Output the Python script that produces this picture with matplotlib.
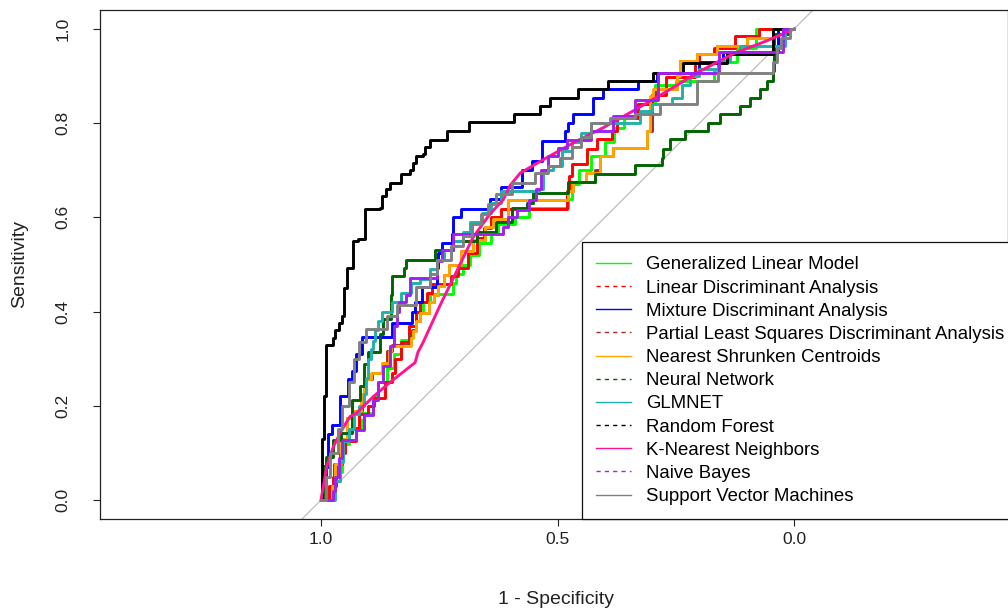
import matplotlib
matplotlib.use("Agg")
import matplotlib.pyplot as plt
from matplotlib.lines import Line2D

plt.rcParams["font.family"] = ["Liberation Sans", "DejaVu Sans"]

# ROC curves as (specificity, sensitivity) step points, from spec=1 down to spec=0
glm = [(1.0, 0.0), (0.975, 0.03), (0.968, 0.04), (0.96, 0.06), (0.955, 0.12), (0.94, 0.15),
       (0.915, 0.17), (0.91, 0.185), (0.89, 0.22), (0.88, 0.25), (0.86, 0.28), (0.845, 0.31),
       (0.83, 0.34), (0.815, 0.37), (0.80, 0.40), (0.785, 0.42), (0.77, 0.437), (0.72, 0.46),
       (0.715, 0.48), (0.70, 0.50), (0.685, 0.52), (0.665, 0.545), (0.64, 0.57), (0.625, 0.585),
       (0.59, 0.60), (0.56, 0.62), (0.477, 0.64), (0.47, 0.67), (0.455, 0.70), (0.43, 0.73),
       (0.40, 0.76), (0.38, 0.79), (0.36, 0.81), (0.33, 0.84), (0.295, 0.88), (0.25, 0.89),
       (0.17, 0.91), (0.16, 0.93), (0.12, 0.96), (0.08, 1.0), (0.0, 1.0)]
lda = [(1.0, 0.0), (0.983, 0.03), (0.975, 0.05), (0.972, 0.076), (0.96, 0.10), (0.95, 0.125),
       (0.927, 0.153), (0.92, 0.182), (0.90, 0.20), (0.888, 0.217), (0.865, 0.25), (0.85, 0.27),
       (0.843, 0.30), (0.83, 0.335), (0.815, 0.37), (0.80, 0.40), (0.79, 0.42), (0.775, 0.44),
       (0.765, 0.458), (0.725, 0.475), (0.71, 0.493), (0.69, 0.525), (0.67, 0.557), (0.655, 0.578),
       (0.64, 0.60), (0.62, 0.618), (0.48, 0.656), (0.476, 0.688), (0.47, 0.713), (0.438, 0.745),
       (0.417, 0.766), (0.385, 0.783), (0.375, 0.81), (0.33, 0.84), (0.30, 0.86), (0.27, 0.897),
       (0.21, 0.93), (0.20, 0.947), (0.17, 0.96), (0.125, 0.985), (0.075, 1.0), (0.0, 1.0)]
mda = [(1.0, 0.0), (0.99, 0.07), (0.985, 0.14), (0.977, 0.16), (0.96, 0.22), (0.943, 0.256),
       (0.935, 0.274), (0.925, 0.31), (0.914, 0.346), (0.85, 0.376), (0.808, 0.40), (0.801, 0.42),
       (0.787, 0.453), (0.755, 0.493), (0.753, 0.525), (0.745, 0.546), (0.724, 0.565), (0.721, 0.60),
       (0.703, 0.618), (0.643, 0.64), (0.62, 0.665), (0.576, 0.70), (0.555, 0.72), (0.533, 0.762),
       (0.484, 0.783), (0.478, 0.80), (0.467, 0.82), (0.425, 0.854), (0.404, 0.872), (0.33, 0.89),
       (0.29, 0.906), (0.20, 0.93), (0.15, 0.95), (0.034, 1.0), (0.0, 1.0)]
pls = [(1.0, 0.0), (0.974, 0.03), (0.968, 0.076), (0.955, 0.13), (0.944, 0.175), (0.933, 0.19),
       (0.913, 0.225), (0.908, 0.256), (0.893, 0.27), (0.868, 0.29), (0.86, 0.316), (0.85, 0.33),
       (0.815, 0.35), (0.808, 0.36), (0.80, 0.38), (0.79, 0.398), (0.772, 0.42), (0.762, 0.435),
       (0.752, 0.455), (0.741, 0.478), (0.73, 0.50), (0.703, 0.528), (0.678, 0.553), (0.653, 0.58),
       (0.636, 0.597), (0.605, 0.636), (0.478, 0.656), (0.467, 0.674), (0.42, 0.70), (0.41, 0.73),
       (0.383, 0.748), (0.311, 0.783), (0.30, 0.86), (0.295, 0.872), (0.248, 0.90), (0.241, 0.932),
       (0.206, 0.947), (0.163, 0.964), (0.10, 0.98), (0.044, 1.0), (0.0, 1.0)]
nsc = [(1.0, 0.0), (0.976, 0.03), (0.97, 0.076), (0.957, 0.13), (0.946, 0.175), (0.935, 0.19),
       (0.915, 0.225), (0.91, 0.256), (0.895, 0.27), (0.87, 0.29), (0.857, 0.316), (0.853, 0.328),
       (0.81, 0.345), (0.805, 0.359), (0.80, 0.38), (0.79, 0.398), (0.772, 0.42), (0.762, 0.435),
       (0.752, 0.455), (0.741, 0.478), (0.73, 0.50), (0.703, 0.528), (0.678, 0.553), (0.653, 0.58),
       (0.636, 0.597), (0.605, 0.636), (0.478, 0.656), (0.467, 0.674), (0.44, 0.695), (0.41, 0.73),
       (0.383, 0.748), (0.311, 0.783), (0.304, 0.858), (0.298, 0.872), (0.248, 0.90), (0.241, 0.932),
       (0.206, 0.947), (0.163, 0.964), (0.10, 0.98), (0.044, 1.0), (0.0, 1.0)]
nnet = [(1.0, 0.0), (0.996, 0.073), (0.99, 0.091), (0.975, 0.127), (0.957, 0.142), (0.935, 0.213),
        (0.918, 0.242), (0.908, 0.289), (0.90, 0.314), (0.875, 0.353), (0.868, 0.385), (0.852, 0.435),
        (0.849, 0.475), (0.824, 0.493), (0.82, 0.51), (0.78, 0.51), (0.76, 0.53), (0.72, 0.55),
        (0.67, 0.57), (0.63, 0.59), (0.597, 0.62), (0.565, 0.63), (0.552, 0.652), (0.477, 0.674),
        (0.42, 0.692), (0.336, 0.711), (0.28, 0.727), (0.277, 0.745), (0.262, 0.766), (0.23, 0.783),
        (0.182, 0.80), (0.156, 0.82), (0.114, 0.837), (0.093, 0.854), (0.072, 0.872), (0.057, 0.89),
        (0.045, 0.91), (0.042, 0.99), (0.01, 1.0), (0.0, 1.0)]
glmnet = [(1.0, 0.0), (0.97, 0.04), (0.96, 0.08), (0.953, 0.125), (0.94, 0.15), (0.93, 0.182),
          (0.92, 0.20), (0.91, 0.225), (0.905, 0.26), (0.90, 0.30), (0.895, 0.32), (0.89, 0.338),
          (0.885, 0.36), (0.88, 0.38), (0.87, 0.40), (0.85, 0.42), (0.83, 0.44), (0.81, 0.46),
          (0.79, 0.47), (0.77, 0.49), (0.755, 0.51), (0.74, 0.53), (0.72, 0.55), (0.70, 0.57),
          (0.685, 0.59), (0.66, 0.61), (0.64, 0.63), (0.62, 0.655), (0.54, 0.66), (0.53, 0.70),
          (0.51, 0.71), (0.49, 0.74), (0.47, 0.76), (0.45, 0.78), (0.43, 0.80), (0.326, 0.826),
          (0.30, 0.84), (0.258, 0.854), (0.237, 0.88), (0.22, 0.90), (0.20, 0.915), (0.16, 0.932),
          (0.135, 0.95), (0.115, 0.964), (0.019, 1.0), (0.0, 1.0)]
rf = [(1.0, 0.0), (0.997, 0.13), (0.993, 0.22), (0.989, 0.33), (0.975, 0.345), (0.97, 0.36),
      (0.962, 0.375), (0.955, 0.39), (0.952, 0.45), (0.946, 0.493), (0.932, 0.55), (0.922, 0.555),
      (0.907, 0.618), (0.875, 0.62), (0.87, 0.645), (0.862, 0.66), (0.854, 0.672), (0.83, 0.692),
      (0.812, 0.70), (0.805, 0.715), (0.799, 0.73), (0.785, 0.735), (0.78, 0.75), (0.77, 0.765),
      (0.734, 0.783), (0.687, 0.803), (0.592, 0.82), (0.537, 0.837), (0.516, 0.854), (0.457, 0.872),
      (0.393, 0.89), (0.298, 0.906), (0.235, 0.928), (0.142, 0.947), (0.044, 1.0), (0.0, 1.0)]
knn = [(1.0, 0.0), (0.988, 0.07), (0.974, 0.113), (0.956, 0.149), (0.939, 0.177), (0.925, 0.185),
       (0.889, 0.22), (0.854, 0.25), (0.801, 0.292), (0.795, 0.314), (0.784, 0.335), (0.748, 0.414),
       (0.713, 0.486), (0.679, 0.557), (0.643, 0.607), (0.615, 0.637), (0.60, 0.668), (0.579, 0.694),
       (0.531, 0.722), (0.467, 0.758), (0.404, 0.79), (0.34, 0.826), (0.268, 0.868), (0.199, 0.91),
       (0.129, 0.947), (0.057, 0.975), (0.008, 0.996), (0.0, 1.0)]
nb = [(1.0, 0.0), (0.975, 0.02), (0.97, 0.05), (0.962, 0.09), (0.955, 0.127), (0.925, 0.149),
      (0.91, 0.18), (0.89, 0.213), (0.88, 0.25), (0.868, 0.285), (0.855, 0.328), (0.845, 0.37),
      (0.84, 0.40), (0.835, 0.42), (0.82, 0.435), (0.812, 0.471), (0.755, 0.507), (0.745, 0.53),
      (0.72, 0.565), (0.615, 0.58), (0.605, 0.60), (0.585, 0.615), (0.56, 0.636), (0.545, 0.66),
      (0.535, 0.70), (0.52, 0.73), (0.50, 0.748), (0.48, 0.765), (0.43, 0.783), (0.383, 0.815),
      (0.336, 0.85), (0.288, 0.907), (0.158, 0.95), (0.023, 1.0), (0.0, 1.0)]
svm = [(1.0, 0.0), (0.99, 0.05), (0.98, 0.10), (0.965, 0.15), (0.955, 0.20), (0.94, 0.25),
       (0.93, 0.30), (0.92, 0.335), (0.905, 0.364), (0.86, 0.39), (0.84, 0.414), (0.80, 0.453),
       (0.77, 0.48), (0.755, 0.51), (0.725, 0.54), (0.70, 0.56), (0.68, 0.586), (0.662, 0.607),
       (0.648, 0.628), (0.63, 0.65), (0.596, 0.672), (0.548, 0.694), (0.52, 0.71), (0.495, 0.727),
       (0.47, 0.75), (0.45, 0.77), (0.43, 0.80), (0.39, 0.81), (0.336, 0.82), (0.283, 0.84),
       (0.205, 0.89), (0.16, 0.907), (0.044, 0.93), (0.036, 0.96), (0.027, 0.98), (0.008, 1.0),
       (0.0, 1.0)]

model_names = ["Generalized Linear Model", "Linear Discriminant Analysis",
               "Mixture Discriminant Analysis", "Partial Least Squares Discriminant Analysis",
               "Nearest Shrunken Centroids", "Neural Network", "GLMNET", "Random Forest",
               "K-Nearest Neighbors", "Naive Bayes", "Support Vector Machines"]
curves = [glm, lda, mda, pls, nsc, nnet, glmnet, rf, knn, nb, svm]
colors = ["#00FF00", "#FF0000", "#0000FF", "#A52A2A", "#FFA500", "#006400",
          "#20B2AA", "#000000", "#FF1493", "#A020F0", "#808080"]

fig = plt.figure(figsize=(10.08, 6.15), dpi=100)
W, H = 1008, 615
ax = fig.add_axes([100 / W, 1 - 519 / H, 908 / W, 509 / H])

# chance diagonal through (1,0) and (0,1)
ax.plot([1.6, -0.6], [-0.6, 1.6], color="#BEBEBE", lw=0.9, zorder=1)

for name, pts, col in zip(model_names, curves, colors):
    xs = [p[0] for p in pts]
    ys = [p[1] for p in pts]
    style = "default" if name == "K-Nearest Neighbors" else "steps-post"
    ax.plot(xs, ys, color=col, lw=2.1, drawstyle=style, zorder=2)

ax.set_xlim(1.467, -0.452)
ax.set_ylim(-0.04, 1.04)
ax.set_xticks([1.0, 0.5, 0.0])
ax.set_xticklabels(["1.0", "0.5", "0.0"])
ax.set_yticks([0.0, 0.2, 0.4, 0.6, 0.8, 1.0])
ax.set_yticklabels(["0.0", "0.2", "0.4", "0.6", "0.8", "1.0"], rotation=90, va="center")
ax.tick_params(direction="out", length=5, width=0.8, labelsize=12.5, colors="#222222")
ax.tick_params(axis="x", pad=4)
ax.tick_params(axis="y", pad=16)
for s in ax.spines.values():
    s.set_color("#222222")
    s.set_linewidth(0.9)

fig.text(556 / W, 1 - 600 / H, "1 - Specificity", ha="center", va="center",
         fontsize=14, color="#222222")
fig.text(20 / W, 1 - 264 / H, "Sensitivity", ha="center", va="center",
         rotation=90, fontsize=14, color="#222222")

handles = [Line2D([], [], color=c, lw=1.0, linestyle="-" if i % 2 == 0 else (0, (3, 3)))
           for i, c in enumerate(colors)]
# legend runs a little past the right edge of the figure
leg = ax.legend(handles, model_names, loc="lower right", bbox_to_anchor=(1 + 10 / 908, 0),
                borderaxespad=0, fontsize=13.4, frameon=True, fancybox=False,
                edgecolor="#111111", framealpha=1, handlelength=1.9, handletextpad=0.8,
                labelspacing=0.33, borderpad=0.75)
leg.get_frame().set_linewidth(0.9)
leg.set_zorder(5)

fig.savefig("out.png", dpi=100)
